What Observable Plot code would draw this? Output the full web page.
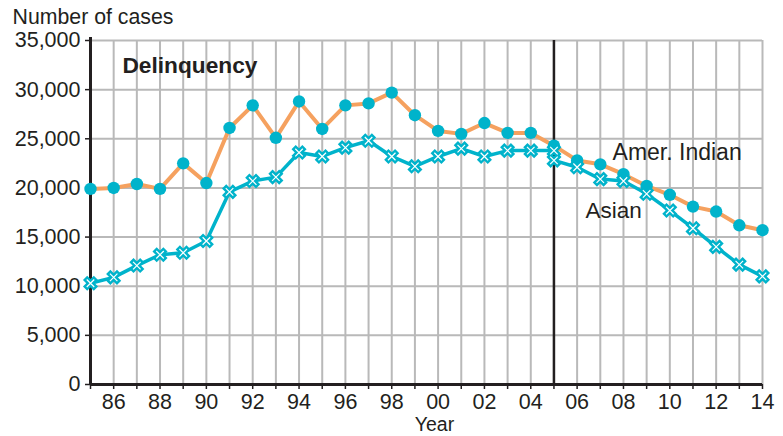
<!DOCTYPE html>
<html><head><meta charset="utf-8">
<script src="https://cdn.jsdelivr.net/npm/d3@7"></script>
<script src="https://cdn.jsdelivr.net/npm/@observablehq/plot@0.6"></script>
<style>
body{margin:0;background:#fff}
#chart svg g[aria-label="x-axis tick label"], #chart svg g[aria-label="y-axis tick label"] { font-size: 21.5px !important; }
#chart svg g[aria-label="x-axis tick label"] text, #chart svg g[aria-label="y-axis tick label"] text { font-size: 21.5px !important; }
</style>
</head><body><div id="chart"></div>
<script>
const years = [1985,1986,1987,1988,1989,1990,1991,1992,1993,1994,1995,1996,1997,1998,1999,2000,2001,2002,2003,2004,2005,2006,2007,2008,2009,2010,2011,2012,2013,2014];
const amerIndian = [19900,20000,20400,19900,22500,20500,26100,28400,25100,28800,26000,28400,28600,29700,27400,25800,25500,26600,25600,25600,24300,22800,22400,21400,20200,19300,18100,17600,16200,15700];
const asianEarlyYears = [1985,1986,1987,1988,1989,1990,1991,1992,1993,1994,1995,1996,1997,1998,1999,2000,2001,2002,2003,2004,2005];
const asianEarly = [10300,10900,12100,13200,13400,14600,19600,20700,21100,23600,23200,24100,24800,23200,22200,23200,24000,23200,23800,23800,23800];
const asianLateYears = [2005,2006,2007,2008,2009,2010,2011,2012,2013,2014];
const asianLate = [22800,22100,20900,20700,19400,17700,15900,14000,12200,11000];
const yTicks = [0,5000,10000,15000,20000,25000,30000,35000];
const breakYear = [2005];

const ORANGE = "#f5a15f";
const CYAN = "#00b3cb";
const INK = "#231f20";
const GRID = "#b9b9b9";

const ai = years.map((y,i) => ({year: y, value: amerIndian[i]}));
const asian = [
  ...asianEarlyYears.map((y,i) => ({year: y, value: asianEarly[i], seg: "a"})),
  ...asianLateYears.map((y,i) => ({year: y, value: asianLate[i], seg: "b"}))
];

const chart = Plot.plot({
  width: 783, height: 436,
  marginLeft: 90, marginRight: 21, marginTop: 40, marginBottom: 52,
  style: {fontFamily: "'Liberation Sans', Arial, sans-serif", fontSize: "21.5px", color: INK, background: "#fff", overflow: "visible"},
  x: {domain: [1985, 2014], label: null},
  y: {domain: [0, 35000], label: null},
  marks: [
    Plot.gridX(years.slice(1), {stroke: GRID, strokeWidth: 2, strokeOpacity: 1}),
    Plot.gridY(yTicks.slice(1), {stroke: GRID, strokeWidth: 2, strokeOpacity: 1}),
    Plot.ruleX(breakYear, {stroke: INK, strokeWidth: 2.5}),
    Plot.axisX(years, {tickSize: 5, tickPadding: 4, strokeWidth: 1.5, fontSize: 21.5,
      tickFormat: d => d % 2 === 0 ? String(d % 100).padStart(2, "0") : ""}),
    Plot.axisY(yTicks, {tickSize: 5, tickPadding: 5, strokeWidth: 1.5, fontSize: 21.5, tickFormat: d3.format(",")}),
    Plot.ruleY([0], {stroke: INK, strokeWidth: 3}),
    Plot.ruleX([1985], {stroke: INK, strokeWidth: 3, y1: 0, y2: 35300}),
    Plot.line(ai, {x: "year", y: "value", stroke: ORANGE, strokeWidth: 4}),
    Plot.line(asian, {x: "year", y: "value", z: "seg", stroke: CYAN, strokeWidth: 3.5}),
    Plot.dot(ai, {x: "year", y: "value", r: 6.2, fill: CYAN, stroke: "none"}),
    Plot.dot(asian, {x: "year", y: "value", symbol: "times", r: 5, stroke: CYAN, strokeWidth: 6}),
    Plot.dot(asian, {x: "year", y: "value", symbol: "times", r: 3.5, stroke: "#fff", strokeWidth: 1.2}),
    Plot.text(["Number of cases"], {frameAnchor: "top-left", dx: -78, dy: -23, textAnchor: "start", lineAnchor: "middle", fontSize: 21.3, fill: INK}),
    Plot.text(["Year"], {frameAnchor: "bottom", dx: 8, dy: 40, lineAnchor: "middle", fontSize: 19.5, fill: INK}),
    Plot.text([{x: 1986.38, y: 32450, t: "Delinquency"}], {x: "x", y: "y", text: "t", textAnchor: "start", lineAnchor: "middle", fontSize: 22.7, fontWeight: "bold", fill: INK}),
    Plot.text([{x: 2007.53, y: 23600, t: "Amer. Indian"}], {x: "x", y: "y", text: "t", textAnchor: "start", lineAnchor: "middle", fontSize: 23, fill: INK}),
    Plot.text([{x: 2006.36, y: 17700, t: "Asian"}], {x: "x", y: "y", text: "t", textAnchor: "start", lineAnchor: "middle", fontSize: 22.5, fill: INK})
  ]
});
document.getElementById("chart").appendChild(chart);
</script>
</body></html>
